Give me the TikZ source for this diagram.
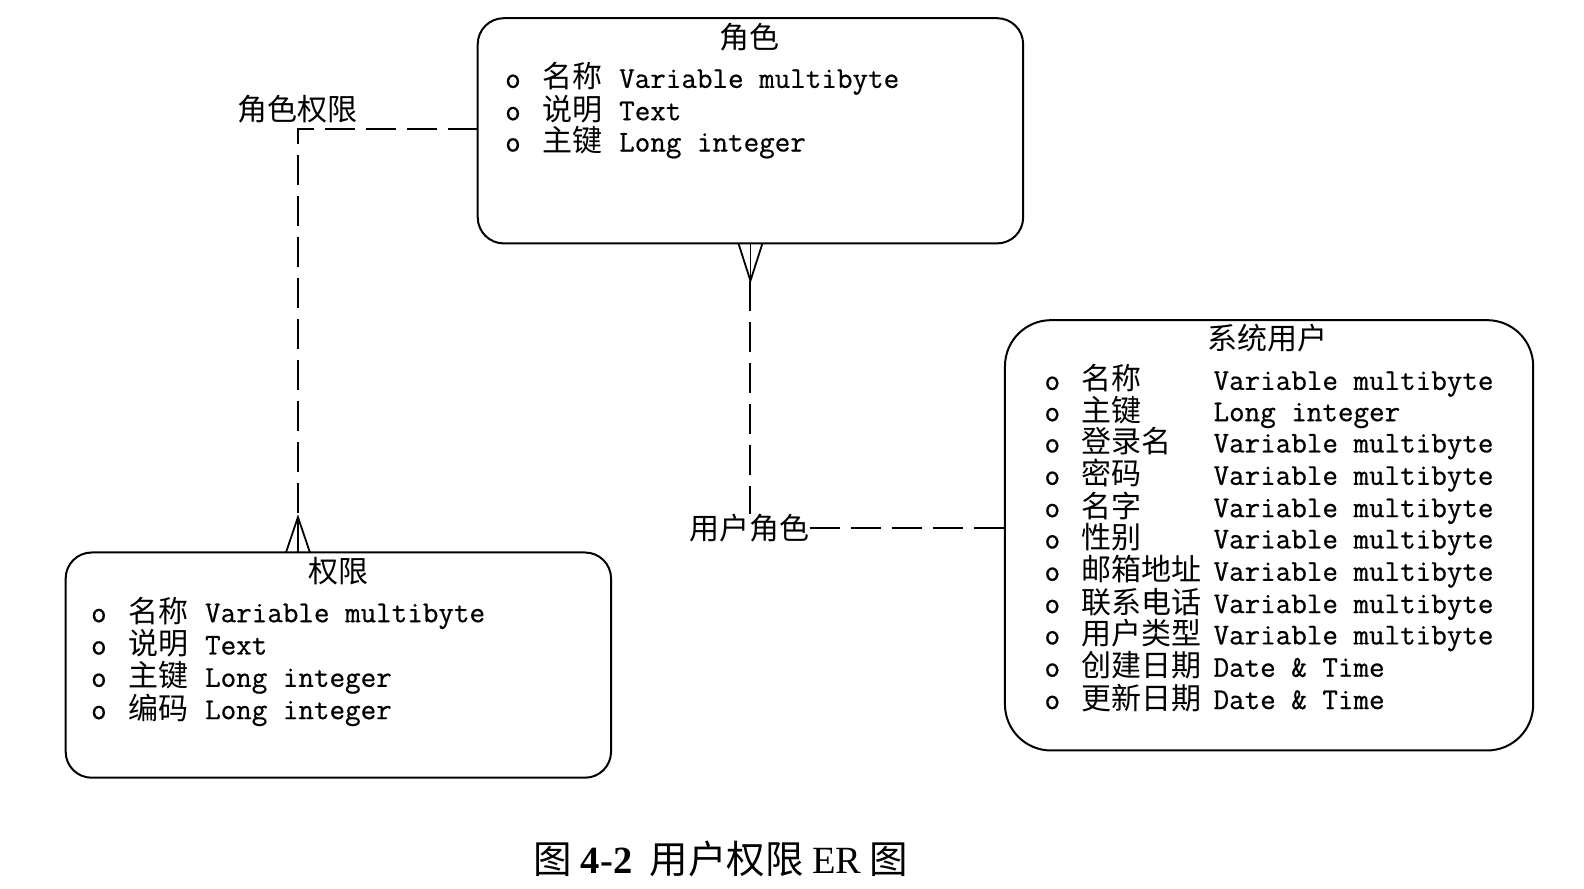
\documentclass[tikz,border=0pt]{standalone}
\usepackage{fontspec}
\newfontfamily\cjk{Noto Sans CJK SC}
\newfontfamily\capserif{Liberation Serif}
\newfontfamily\monof[FakeBold=0.6]{Latin Modern Mono}
\newcommand\erow[6]{\node[rowtxt] (#1) at (#2,#3) {\makebox[37pt][l]{o}\makebox[#4][l]{\cjk\fontsize{30}{30}\selectfont #5}#6};}
\begin{document}
\begin{tikzpicture}[x=1.01pt,y=-1.01pt,
  entity/.style={draw, line width=2pt, inner sep=0pt, outer sep=0pt},
  rowtxt/.style={anchor=base west, inner sep=0pt, font=\fontsize{30.2}{30}\selectfont\monof},
  ttl/.style={inner sep=0pt, font=\fontsize{30}{30}\selectfont\cjk},
  rel/.style={line width=2pt, dash pattern=on 30pt off 11pt},
  foot/.style={line width=1.8pt}]
\fill[white] (0,0) rectangle (1568.3,879.2);
\path[use as bounding box] (0,0) rectangle (1568.3,879.2);

% entities
\node[entity, minimum width=545.4pt, minimum height=225.2pt, rounded corners=26pt] (role) at (743,129.5) {};
\node[entity, minimum width=545.4pt, minimum height=225.2pt, rounded corners=26pt] (perm) at (335,658.5) {};
\node[entity, minimum width=528.2pt, minimum height=430.3pt, rounded corners=46pt] (user) at (1256.5,530) {};

% titles
\node[ttl] (roleT) at (742,37) {角色};
\node[ttl] (permT) at (335,566) {权限};
\node[ttl] (userT) at (1255,335) {系统用户};

% role rows
\erow{r1}{500}{87}{77pt}{名称}{Variable multibyte}
\erow{r2}{500}{119}{77pt}{说明}{Text}
\erow{r3}{500}{150}{77pt}{主键}{Long integer}

% permission rows
\erow{p1}{90}{616}{77pt}{名称}{Variable multibyte}
\erow{p2}{90}{648}{77pt}{说明}{Text}
\erow{p3}{90}{680}{77pt}{主键}{Long integer}
\erow{p4}{90}{712}{77pt}{编码}{Long integer}

% user rows
\erow{u1}{1034}{386}{132pt}{名称}{Variable multibyte}
\erow{u2}{1034}{417}{132pt}{主键}{Long integer}
\erow{u3}{1034}{448}{132pt}{登录名}{Variable multibyte}
\erow{u4}{1034}{480}{132pt}{密码}{Variable multibyte}
\erow{u5}{1034}{512}{132pt}{名字}{Variable multibyte}
\erow{u6}{1034}{543}{132pt}{性别}{Variable multibyte}
\erow{u7}{1034}{575}{132pt}{邮箱地址}{Variable multibyte}
\erow{u8}{1034}{607}{132pt}{联系电话}{Variable multibyte}
\erow{u9}{1034}{638}{132pt}{用户类型}{Variable multibyte}
\erow{u10}{1034}{670}{132pt}{创建日期}{Date \& Time}
\erow{u11}{1034}{702}{132pt}{更新日期}{Date \& Time}

% relationship labels
\node[ttl] (lblRP) at (295,108) {角色权限};
\node[ttl] (lblUR) at (742,523) {用户角色};

% relationship: role - permission
\coordinate (rpBend) at (295,128);
\coordinate (rpBase) at (perm.north -| rpBend);
\coordinate (rpApex) at (295,512);
\draw[rel] (role.west |- rpBend) -- (rpBend) -- (rpApex);
\draw[foot] ([xshift=-12pt]rpBase) -- (rpApex) -- ([xshift=12pt]rpBase);
\draw[foot] (rpBase) -- (rpApex);

% relationship: user - role
\coordinate (urBase) at (role.south);
\coordinate (urApex) at (743,278);
\draw[foot] ([xshift=-12pt]urBase) -- (urApex) -- ([xshift=12pt]urBase);
\draw[foot] (urBase) -- (urApex);
\draw[rel] (urApex) -- (lblUR.north -| urApex);
\draw[rel] (lblUR.east) -- (lblUR.east -| user.west);

% caption
\node[inner sep=0pt, font=\fontsize{38.5}{38.5}\selectfont] (cap) at (714,850)
  {\cjk 图\ {\capserif\bfseries 4-2}\ \ 用户权限\ {\capserif ER}\ 图};
\end{tikzpicture}
\end{document}
